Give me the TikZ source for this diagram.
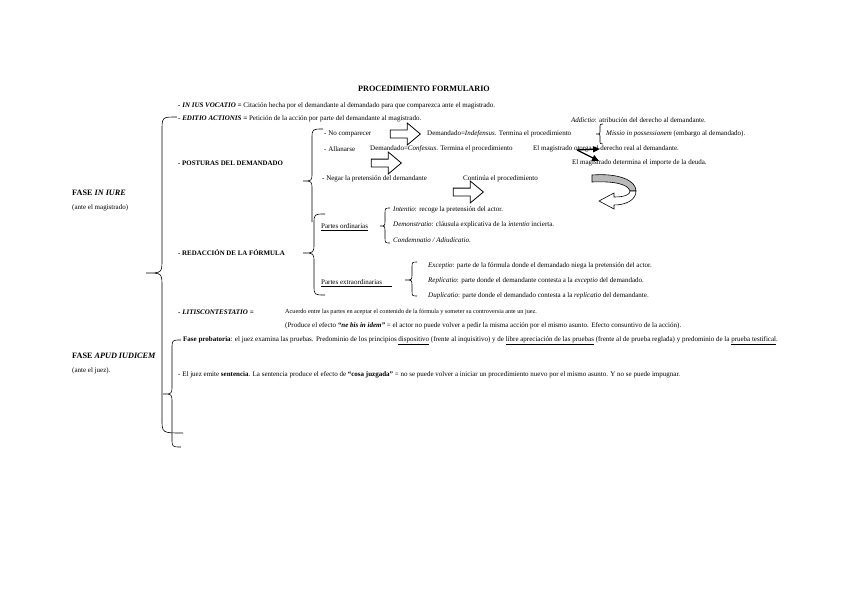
\documentclass[tikz,border=0pt]{standalone}
\usepackage{fontspec}
\setmainfont{Liberation Serif}
\usetikzlibrary{shapes.arrows, arrows.meta}
\newcommand\mybrace[8]{%
 \draw[brace] (#1,#2) .. controls (#3,#2) .. (#3,{#2+#4}) -- (#3,{#6-#4}) .. controls (#3,#6) .. (#5,#6) .. controls (#3,#6) .. (#3,{#6+#4}) -- (#3,{#8-#4}) .. controls (#3,#8) .. (#7,#8);}
\begin{document}
\begin{tikzpicture}[x=1pt,y=-1pt,
  txt/.style={anchor=west, inner sep=0pt, font=\fontsize{7}{8}\selectfont},
  hd/.style={anchor=west, inner sep=0pt, font=\fontsize{6.9}{8}\selectfont\bfseries},
  fase/.style={anchor=west, inner sep=0pt, font=\fontsize{8.2}{9}\selectfont\bfseries},
  brace/.style={draw=black, line width=0.6pt},
  hollow/.style={single arrow, draw=black, fill=white, line width=0.8pt, minimum height=30pt, minimum width=17pt, inner xsep=0pt, inner ysep=3.5pt, single arrow tip angle=80},
  blk/.style={-{Triangle[length=7pt,width=6pt]}, line width=1.3pt}]
\useasboundingbox (0,0) rectangle (848,599);
\fill[white] (0,0) rectangle (848,599);
% title
\node[anchor=center, inner sep=0pt, font=\fontsize{8.2}{9}\selectfont\bfseries] (title) at (424,89) {PROCEDIMIENTO FORMULARIO};
% fases
\node[fase] (fiure) at (72,193) {FASE \textit{IN IURE}};
\node[txt] (antemag) at (72,208) {(ante el magistrado)};
\node[fase] (fapud) at (72,356) {FASE \textit{APUD IUDICEM}};
\node[txt] (antejuez) at (72,371) {(ante el juez).};
% in iure
\node[txt] (ius) at (178,106) {\textbf{\textit{- IN IUS VOCATIO =}} Citación hecha por el demandante al demandado para que comparezca ante el magistrado.};
\node[txt] (editio) at (178,119) {\textbf{\textit{- EDITIO ACTIONIS =}} Petición de la acción por parte del demandante al magistrado.};
\node[txt] (nocomp) at (324,134) {- No comparecer};
\node[hollow] (arr1) at (403,134) {};
\node[txt] (indef) at (427,134) {Demandado=\textit{Indefensus}. Termina el procedimiento};
\node[txt] (allan) at (324,149) {- Allanarse};
\node[txt] (confes) at (370,149) {Demandado=\textit{Confessus}. Termina el procedimiento};
\node[txt] (otorga) at (533,149) {El magistrado otorga el derecho real al demandante.};
\node[txt] (addictio) at (571,120) {\textit{Addictio}: atribución del derecho al demandante.};
\node[txt] (missio) at (606,134) {\textit{Missio in possessionem} (embargo al demandado).};
\node[txt] (determina) at (572,163) {El magistrado determina el importe de la deuda.};
\node[hd] (posturas) at (178,163) {- POSTURAS DEL DEMANDADO};
\node[hollow] (arr2) at (384,163) {};
\node[txt] (negar) at (322,179) {- Negar la pretensión del demandante};
\node[txt] (continua) at (463,179) {Continúa el procedimiento};
\node[hollow] (arr3) at (466,192) {};
\node[txt] (pord) at (321,227) {\underline{Partes ordinarias}};
\node[txt] (intentio) at (393,210) {\textit{Intentio}: recoge la pretensión del actor.};
\node[txt] (demonstratio) at (393,225) {\textit{Demonstratio}: cláusula explicativa de la \textit{intentio} incierta.};
\node[txt] (condemnatio) at (393,240) {\textit{Condemnatio / Adiudicatio}.};
\node[hd] (redaccion) at (178,253) {- REDACCIÓN DE LA FÓRMULA};
\node[txt] (pext) at (321,282) {Partes extraordinarias};
\draw[line width=0.5pt] ([yshift=-1.2pt]pext.south west) -- ++(71,0) coordinate (pextend);
\node[txt] (exceptio) at (428,266) {\textit{Exceptio}: parte de la fórmula donde el demandado niega la pretensión del actor.};
\node[txt] (replicatio) at (428,281) {\textit{Replicatio}: parte donde el demandante contesta a la \textit{exceptio} del demandado.};
\node[txt] (duplicatio) at (428,296) {\textit{Duplicatio}: parte donde el demandado contesta a la \textit{replicatio} del demandante.};
\node[txt] (litis) at (178,312) {\textbf{\textit{- LITISCONTESTATIO =}}};
\node[txt, font=\fontsize{6.2}{7}\selectfont] (acuerdo) at (285,312) {Acuerdo entre las partes en aceptar el contenido de la fórmula y someter su controversia ante un juez.};
\node[txt] (produce) at (285,326) {(Produce el efecto \textbf{\textit{“ne bis in idem”}} = el actor no puede volver a pedir la misma acción por el mismo asunto. Efecto consuntivo de la acción).};
% apud iudicem
\node[txt] (probatoria) at (183,341) {\textbf{Fase probatoria}: el juez examina las pruebas. Predominio de los principios \underline{dispositivo} (frente al inquisitivo) y de \underline{libre apreciación de las pruebas} (frente al de prueba reglada) y predominio de la \underline{prueba testifical}.};
\node[txt] (juez) at (178,375) {- El juez emite \textbf{sentencia}. La sentencia produce el efecto de \textbf{“cosa juzgada”} = no se puede volver a iniciar un procedimiento nuevo por el mismo asunto. Y no se puede impugnar.};
% black arrows
\coordinate (bs) at (577,150);
\coordinate (be1) at (600,149);
\coordinate (be2) at (599,161);
\draw[blk] (bs) -- (be1);
\draw[blk] (bs) -- (be2);
% curved arrow
\filldraw[fill=gray!55, draw=black, line width=0.6pt] (592,175) .. controls (618,173) and (636,180) .. (636,191) -- (630,191) .. controls (628,184) and (614,181) .. (592,182) -- cycle;
\filldraw[fill=white, draw=black, line width=0.6pt] (636,191) .. controls (636,200) and (626,205) .. (614,205) -- (614,209) -- (599,201) -- (614,193) -- (614,197) .. controls (624,197) and (630,195) .. (630,191) -- cycle;
% braces
\mybrace{177}{117}{162}{14}{146}{273}{183}{433}
\mybrace{181}{340}{172}{9}{163}{394}{181}{447}
\draw[brace] (323,129) .. controls (312,129) .. (312,139) -- (312,172) .. controls (312,181) .. (303,181) .. controls (312,181) .. (312,190) -- (312,222);
\mybrace{325}{214}{314}{10}{303}{253}{325}{295}
\mybrace{390}{208}{385}{6}{380}{226}{390}{243}
\mybrace{417}{262}{412}{6}{405}{280}{417}{296}
\mybrace{603}{124}{600}{4}{596}{134}{603}{144}
\end{tikzpicture}
\end{document}
